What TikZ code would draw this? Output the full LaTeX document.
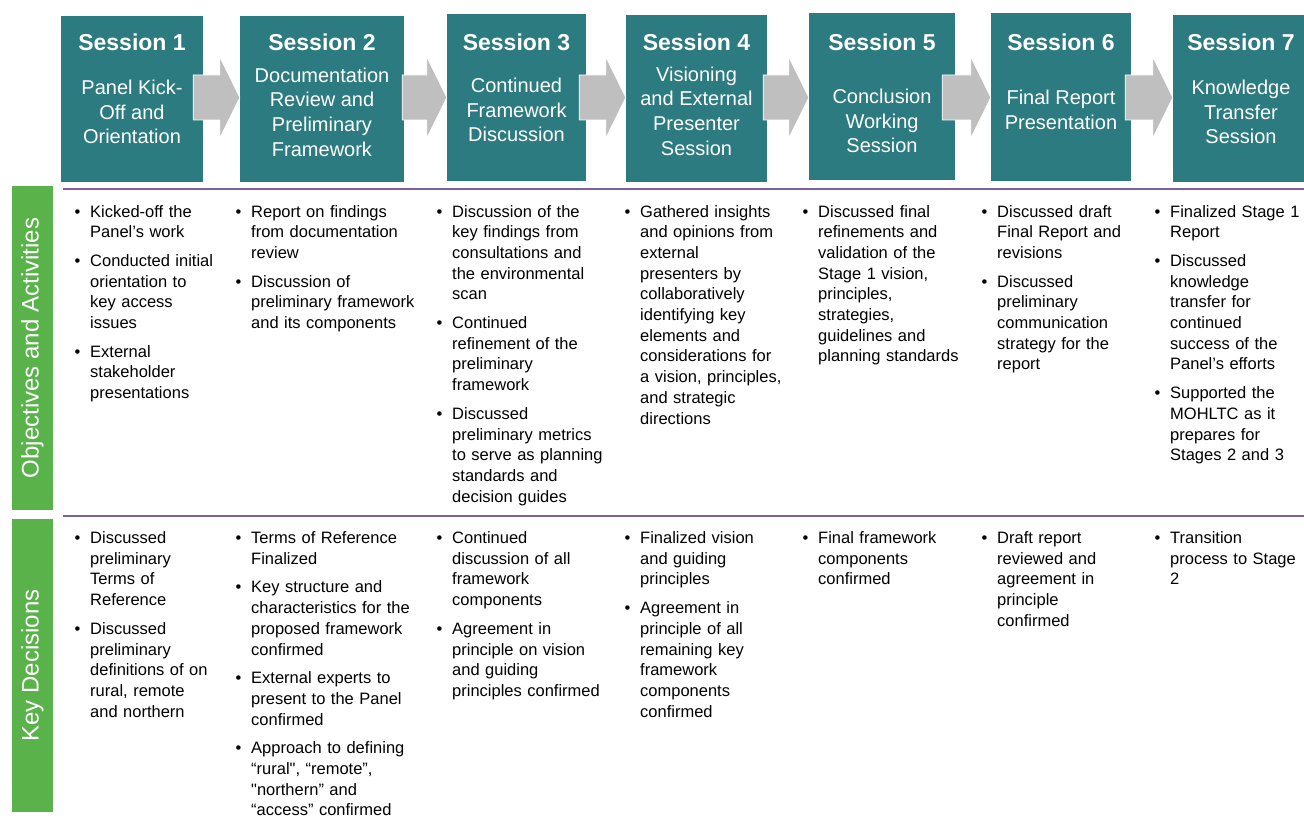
\documentclass[tikz,border=0pt]{standalone}
\usepackage{fontspec}
\setmainfont{Liberation Sans}
\usetikzlibrary{positioning}
\usetikzlibrary{calc}
\definecolor{sessionteal}{RGB}{44,123,128}
\definecolor{arrowgray}{RGB}{191,191,191}
\definecolor{linepurple}{RGB}{125,96,160}
\definecolor{bargreen}{RGB}{90,178,74}
\tikzstyle{sessionbox}=[rectangle,fill=sessionteal,inner sep=0pt]
\tikzstyle{sessiontitle}=[text=white,font=\bfseries\fontsize{23}{27}\selectfont,anchor=base,inner sep=0pt]
\tikzstyle{sessiontext}=[text=white,font=\fontsize{20}{24.6}\selectfont,align=center,inner sep=0pt]
\tikzstyle{blockarrow}=[fill=arrowgray,draw=white,line width=0.7pt,line join=miter]
\tikzstyle{sepline}=[draw=linepurple,line width=2pt]
\tikzstyle{sidebar}=[rectangle,fill=bargreen,text=white,font=\fontsize{24}{29}\selectfont,rotate=90,inner sep=0pt]
\tikzstyle{cell}=[anchor=base west,inner sep=0pt,align=left,font=\fontsize{16.5}{20.7}\selectfont,execute at begin node={\setlength{\parskip}{8pt}}]
% one bullet item, lines split with \newline
\newcommand{\bitem}[1]{\hangindent=15.5pt\hangafter=1\noindent\makebox[15.5pt][l]{\textbullet}#1\par}

\begin{document}
\begin{tikzpicture}[x=1pt,y=-1pt]
    \useasboundingbox (0,0) rectangle (1304,824);
    \coordinate (titleline) at (0,51);
    \coordinate (arrowmid) at (0,97.5);

    % First the seven session boxes
    \foreach \i/\cx/\cy/\w/\h/\sy/\txt in {
        1/132/99/142/166/112/{Panel Kick-\\Off and\\Orientation},
        2/322/99/164/166/112/{Documentation\\Review and\\Preliminary\\Framework},
        3/516.5/97.5/139/167/110/{Continued\\Framework\\Discussion},
        4/696.5/98.5/141/167/111/{Visioning\\and External\\Presenter\\Session},
        5/882/96.5/146/167/121/{Conclusion\\Working\\Session},
        6/1061/97/140/168/110/{Final Report\\Presentation},
        7/1241/98.5/136/167/112/{Knowledge\\Transfer\\Session}}
    {
        \node[sessionbox, minimum width=\w pt, minimum height=\h pt] (s\i) at (\cx,\cy) {};
        \node[sessiontitle] (t\i) at (s\i |- titleline) {Session \i};
        \node[sessiontext] (d\i) at ($(s\i.center)+(0,{\sy-\cy})$) {\txt};
    }

    % Gray block arrows from box to box
    \foreach \a/\b/\o in {1/2/10, 2/3/2, 3/4/7, 4/5/4, 5/6/13, 6/7/6}
    {
        \coordinate (tail) at ($(s\a.east |- arrowmid)+(-\o,0)$);
        \coordinate (tip) at (s\b.west |- arrowmid);
        \path[blockarrow] ($(tail)+(0,-22.5)$) -- ($(tip)+(-20,-22.5)$) -- ($(tip)+(-20,-40.5)$)
            -- (tip) -- ($(tip)+(-20,40.5)$) -- ($(tip)+(-20,22.5)$) -- ($(tail)+(0,22.5)$) -- cycle;
    }

    % Row separators and side bars
    \draw[sepline] (63,188.5) -- (1304,188.5);
    \draw[sepline] (63,516) -- (1304,516);
    \node[sidebar, minimum width=324pt, minimum height=41pt] (objbar) at (32.5,348) {Objectives and Activities};
    \node[sidebar, minimum width=293pt, minimum height=41pt] (decbar) at (32.5,665.5) {Key Decisions};

    % Objectives and Activities
    \node[cell, text width=158pt] (obj1) at (74.5,217) {\bitem{Kicked-off the\newline Panel’s work}\bitem{Conducted initial\newline orientation to\newline key access\newline issues}\bitem{External\newline stakeholder\newline presentations}};
    \node[cell, text width=198pt] (obj2) at (235.5,217) {\bitem{Report on findings\newline from documentation\newline review}\bitem{Discussion of\newline preliminary framework\newline and its components}};
    \node[cell, text width=185pt] (obj3) at (436.5,217) {\bitem{Discussion of the\newline key findings from\newline consultations and\newline the environmental\newline scan}\bitem{Continued\newline refinement of the\newline preliminary\newline framework}\bitem{Discussed\newline preliminary metrics\newline to serve as planning\newline standards and\newline decision guides}};
    \node[cell, text width=175pt] (obj4) at (624.5,217) {\bitem{Gathered insights\newline and opinions from\newline external\newline presenters by\newline collaboratively\newline identifying key\newline elements and\newline considerations for\newline a vision, principles,\newline and strategic\newline directions}};
    \node[cell, text width=176pt] (obj5) at (802.5,217) {\bitem{Discussed final\newline refinements and\newline validation of the\newline Stage 1 vision,\newline principles,\newline strategies,\newline guidelines and\newline planning standards}};
    \node[cell, text width=170pt] (obj6) at (981.5,217) {\bitem{Discussed draft\newline Final Report and\newline revisions}\bitem{Discussed\newline preliminary\newline communication\newline strategy for the\newline report}};
    \node[cell, text width=149pt] (obj7) at (1154.5,217) {\bitem{Finalized Stage 1\newline Report}\bitem{Discussed\newline knowledge\newline transfer for\newline continued\newline success of the\newline Panel’s efforts}\bitem{Supported the\newline MOHLTC as it\newline prepares for\newline Stages 2 and 3}};

    % Key Decisions
    \node[cell, text width=158pt] (dec1) at (74.5,543.5) {\bitem{Discussed\newline preliminary\newline Terms of\newline Reference}\bitem{Discussed\newline preliminary\newline definitions of on\newline rural, remote\newline and northern}};
    \node[cell, text width=198pt] (dec2) at (235.5,543.5) {\bitem{Terms of Reference\newline Finalized}\bitem{Key structure and\newline characteristics for the\newline proposed framework\newline confirmed}\bitem{External experts to\newline present to the Panel\newline confirmed}\bitem{Approach to defining\newline “rural\textquotedbl, “remote”,\newline \textquotedbl northern” and\newline “access” confirmed}};
    \node[cell, text width=185pt] (dec3) at (436.5,543.5) {\bitem{Continued\newline discussion of all\newline framework\newline components}\bitem{Agreement in\newline principle on vision\newline and guiding\newline principles confirmed}};
    \node[cell, text width=175pt] (dec4) at (624.5,543.5) {\bitem{Finalized vision\newline and guiding\newline principles}\bitem{Agreement in\newline principle of all\newline remaining key\newline framework\newline components\newline confirmed}};
    \node[cell, text width=176pt] (dec5) at (802.5,543.5) {\bitem{Final framework\newline components\newline confirmed}};
    \node[cell, text width=170pt] (dec6) at (981.5,543.5) {\bitem{Draft report\newline reviewed and\newline agreement in\newline principle\newline confirmed}};
    \node[cell, text width=149pt] (dec7) at (1154.5,543.5) {\bitem{Transition\newline process to Stage\newline 2}};
\end{tikzpicture}
\end{document}
